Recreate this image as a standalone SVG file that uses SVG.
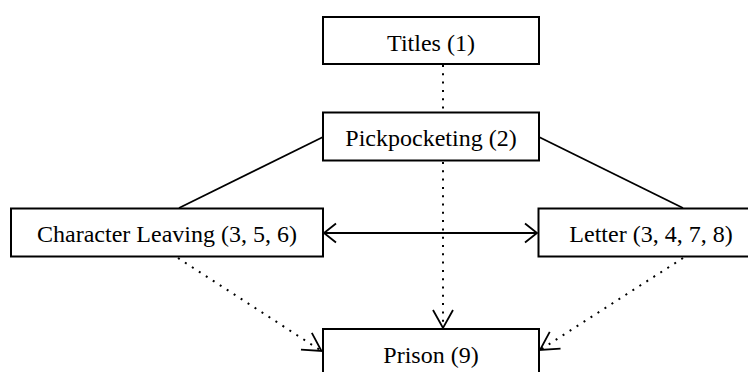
<svg xmlns="http://www.w3.org/2000/svg" width="748" height="372" viewBox="0 0 748 372">
<style>
.box{fill:#fff;stroke:#000;stroke-width:2}
.lbl{font-family:"Liberation Serif","Times New Roman",serif;font-size:24px;fill:#000;text-anchor:middle}
.solid{stroke:#000;stroke-width:1.8;fill:none}
.dot{stroke:#000;stroke-width:2;fill:none;stroke-dasharray:2 6.3}
.head{stroke:#000;stroke-width:1.8;fill:none;stroke-linejoin:miter}
</style>
<defs>
<marker id="vopen" markerUnits="userSpaceOnUse" markerWidth="24" markerHeight="24" viewBox="-20 -12 22 24" refX="0" refY="0" orient="auto" overflow="visible">
<path class="head" d="M-18,-10 L0,0 L-18,10"/>
</marker>
<marker id="vshort" markerUnits="userSpaceOnUse" markerWidth="24" markerHeight="24" viewBox="-14 -12 16 24" refX="0" refY="0" orient="auto-start-reverse" overflow="visible">
<path class="head" d="M-12,-9.5 L0,0 L-12,9.5"/>
</marker>
</defs>
<rect width="748" height="372" fill="#fff"/>
<g id="connectors">
<line class="dot" x1="443" y1="65" x2="443" y2="112"/>
<line class="dot" x1="443" y1="162" x2="443" y2="328" marker-end="url(#vopen)"/>
<line class="solid" x1="323" y1="137" x2="179" y2="208"/>
<line class="solid" x1="539" y1="137" x2="683" y2="208"/>
<line class="solid" x1="324" y1="233" x2="537" y2="233" marker-start="url(#vshort)" marker-end="url(#vshort)"/>
<line class="dot" x1="178" y1="258" x2="321.5" y2="351" marker-end="url(#vopen)"/>
<line class="dot" x1="683" y1="258" x2="540" y2="350" marker-end="url(#vopen)"/>
</g>
<g id="titles">
<rect class="box" x="323" y="17" width="216" height="47"/>
<text class="lbl" x="431" y="51">Titles (1)</text>
</g>
<g id="pickpocketing">
<rect class="box" x="323" y="112.5" width="216" height="48"/>
<text class="lbl" x="431" y="146">Pickpocketing (2)</text>
</g>
<g id="character-leaving">
<rect class="box" x="11" y="208.5" width="312" height="48"/>
<text class="lbl" x="167" y="242">Character Leaving (3, 5, 6)</text>
</g>
<g id="letter">
<rect class="box" x="538.5" y="208.5" width="225" height="48"/>
<text class="lbl" x="651" y="242">Letter (3, 4, 7, 8)</text>
</g>
<g id="prison">
<rect class="box" x="323" y="329" width="216" height="48"/>
<text class="lbl" x="431" y="363">Prison (9)</text>
</g>
</svg>
